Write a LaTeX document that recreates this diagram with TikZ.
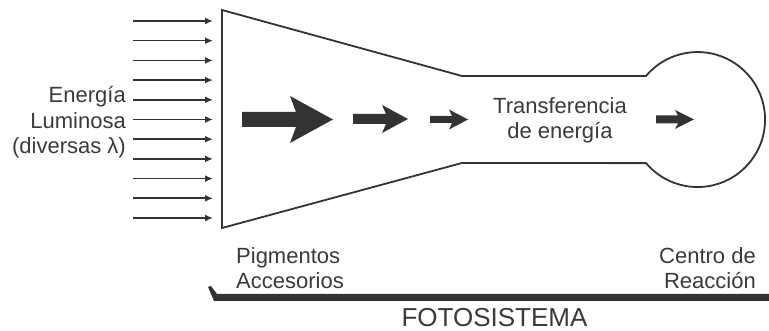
\documentclass[tikz,border=0pt]{standalone}
\usepackage{fontspec}
\setmainfont{Liberation Sans}
\usetikzlibrary{arrows.meta}

\definecolor{ink}{HTML}{333333}
\definecolor{txt}{HTML}{3A3A3A}

\begin{document}
\begin{tikzpicture}[x=1pt,y=1pt]
	\tikzstyle{ray}=[-{Latex[length=8pt,width=7pt]}, line width=1.6pt, draw=ink]
	\tikzstyle{outline}=[line width=1.8pt, draw=ink, line join=miter]
	\tikzstyle{fat}=[fill=ink]
	\tikzstyle{lbl}=[inner sep=0pt, text=txt, font=\fontsize{22}{25.8}\selectfont]
	\useasboundingbox (0,0) rectangle (769,331);
	% light coming in
	\foreach \i in {0,...,10} {
		\coordinate (in\i) at (133,{310-19.7*\i});
		\coordinate (out\i) at (213,{310-19.7*\i});
		\draw[ray] (in\i) -- (out\i);
	}
	% funnel + reaction centre
	\coordinate (fc) at (697.5,211.5);
	\draw[outline] (222,321) -- (462,255) -- (646,255)
		arc[start angle=139.8, end angle=-139.8, radius=67.5pt]
		-- (462,168) -- (222,103) -- cycle;
	% energy arrows
	\fill[fat] (242,204) -- (296,204) -- (290,188) -- (333,211.5) -- (290,235) -- (296,219) -- (242,219) -- cycle;
	\fill[fat] (353,207) -- (386,207) -- (382,198) -- (408,212) -- (382,226) -- (386,217) -- (353,217) -- cycle;
	\fill[fat] (430,208) -- (452,208) -- (449,201.5) -- (468,211.5) -- (449,221.5) -- (452,215) -- (430,215) -- cycle;
	\fill[fat] (656,207.5) -- (678,207.5) -- (675,202) -- (694,211.5) -- (675,221) -- (678,215.5) -- (656,215.5) -- cycle;
	% labels
	\node[lbl, anchor=north east, align=right] (luz) at (126,245) {Energía\\Luminosa\\(diversas λ)};
	\node[lbl, anchor=north, align=center] (trans) at (560,234) {Transferencia\\de energía};
	\node[lbl, anchor=north west, align=left] (pig) at (236,84) {Pigmentos\\Accesorios};
	\node[lbl, anchor=north east, align=right] (centro) at (756,84) {Centro de\\Reacción};
	% bracket
	\fill[fat] (208,44) -- (211,45) -- (217,37) -- (769,37) -- (769,30) -- (214,30) -- cycle;
	\node[lbl, anchor=north, font=\fontsize{26}{30}\selectfont] (foto) at (494.5,23) {FOTOSISTEMA};
\end{tikzpicture}
\end{document}
